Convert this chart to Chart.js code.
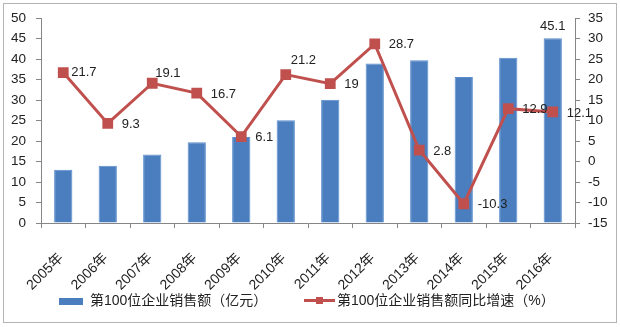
<!DOCTYPE html>
<html>
<head>
<meta charset="utf-8">
<script src="https://cdn.jsdelivr.net/npm/chart.js@4"></script>
<style>
  body { margin: 0; background: #fff; }
  #wrap { position: relative; width: 620px; height: 327px; }
  #frame { position: absolute; left: 3px; top: 3px; width: 612px; height: 318px; border: 1px solid #b4b4b4; pointer-events: none; }
  .legend { position: absolute; top: 290px; height: 20px; font: 14px "Liberation Sans", "Noto Sans CJK SC", sans-serif; color: #222; line-height: 20px; white-space: nowrap; }
  .swatch-bar { position: absolute; width: 24px; height: 7px; background: #4a7ebf; top: 8px; }
  .swatch-line { position: absolute; width: 31px; height: 3px; background: #c0504d; top: 9px; }
  .swatch-dot { position: absolute; width: 7px; height: 7px; background: #c0504d; top: 7px; }
</style>
</head>
<body>
<div id="wrap">
  <canvas id="salesChart" width="620" height="327"></canvas>
  <div id="frame"></div>
  <div class="legend" style="left:59px;">
    <span class="swatch-bar" style="left:0;"></span>
    <span style="position:absolute; left:31px;">第100位企业销售额（亿元）</span>
  </div>
  <div class="legend" style="left:304px;">
    <span class="swatch-line" style="left:0;"></span>
    <span class="swatch-dot" style="left:12px;"></span>
    <span style="position:absolute; left:33px;">第100位企业销售额同比增速（%）</span>
  </div>
</div>
<script>
const years = ['2005年', '2006年', '2007年', '2008年', '2009年', '2010年', '2011年', '2012年', '2013年', '2014年', '2015年', '2016年'];
const sales = [13, 14, 16.7, 19.7, 21, 25.1, 30.1, 38.9, 39.7, 35.6, 40.3, 45.1];
const growth = [21.7, 9.3, 19.1, 16.7, 6.1, 21.2, 19, 28.7, 2.8, -10.3, 12.9, 12.1];
const leftTicks = [0, 50, 5];     // min, max, step
const rightTicks = [-15, 35, 5];

const numFont = '"Liberation Sans", "Noto Sans CJK SC", sans-serif';

// labels next to points, Excel style (only the last bar is labelled)
const valueLabels = {
    id: 'valueLabels',
    afterDatasetsDraw(chart) {
        const ctx = chart.ctx;
        const shift = { 0: [8, 0], 2: [3, -10], 5: [5, -14] };
        ctx.save();
        ctx.font = '13px ' + numFont;
        ctx.fillStyle = '#222';

        const line = chart.getDatasetMeta(1);
        ctx.textAlign = 'left';
        ctx.textBaseline = 'middle';
        line.data.forEach((pt, i) => {
            const s = shift[i] || [14, 1];
            ctx.fillText(String(growth[i]), pt.x + s[0], pt.y + s[1]);
        });

        const bars = chart.getDatasetMeta(0);
        const last = bars.data[bars.data.length - 1];
        ctx.textAlign = 'center';
        ctx.textBaseline = 'bottom';
        ctx.fillText(String(sales[sales.length - 1]), last.x, last.y - 5);
        ctx.restore();
    }
};

const ctx = document.getElementById('salesChart').getContext('2d');
new Chart(ctx, {
    type: 'bar',
    data: {
        labels: years,
        datasets: [{
            label: '第100位企业销售额（亿元）',
            data: sales,
            yAxisID: 'y',
            backgroundColor: '#4a7ebf',
            borderColor: '#5b8dcc',
            borderWidth: 1,
            barPercentage: 0.41,
            categoryPercentage: 1,
            order: 2
        }, {
            type: 'line',
            label: '第100位企业销售额同比增速（%）',
            data: growth,
            yAxisID: 'y2',
            borderColor: '#c0504d',
            borderWidth: 3,
            pointStyle: 'rect',
            pointRadius: 5.5,
            pointBackgroundColor: '#c0504d',
            pointBorderColor: '#c0504d',
            tension: 0,
            order: 1
        }]
    },
    options: {
        responsive: false,
        animation: false,
        layout: { padding: { top: 18, left: 0, right: 0, bottom: 0 } },
        plugins: {
            legend: { display: false },
            tooltip: { enabled: false }
        },
        scales: {
            x: {
                grid: { display: true, drawOnChartArea: false, drawTicks: true, tickLength: 5, color: '#868686' },
                border: { display: true, color: '#868686' },
                ticks: {
                    color: '#222',
                    font: { family: numFont, size: 14 },
                    minRotation: 45,
                    maxRotation: 45,
                    padding: 22,
                    labelOffset: -2
                },
                afterFit(scale) { scale.height = 104; }
            },
            y: {
                position: 'left',
                min: leftTicks[0],
                max: leftTicks[1],
                grid: { display: true, drawOnChartArea: false, drawTicks: true, tickLength: 5, color: '#868686' },
                border: { display: true, color: '#868686' },
                ticks: { stepSize: leftTicks[2], color: '#222', font: { family: numFont, size: 13.5 }, padding: 10 },
                afterFit(scale) { scale.width = 41; }
            },
            y2: {
                position: 'right',
                min: rightTicks[0],
                max: rightTicks[1],
                grid: { display: true, drawOnChartArea: false, drawTicks: true, tickLength: 5, color: '#868686' },
                border: { display: true, color: '#868686' },
                ticks: { stepSize: rightTicks[2], color: '#222', font: { family: numFont, size: 13.5 }, padding: 8 },
                afterFit(scale) { scale.width = 45; }
            }
        }
    },
    plugins: [valueLabels]
});
</script>
</body>
</html>
